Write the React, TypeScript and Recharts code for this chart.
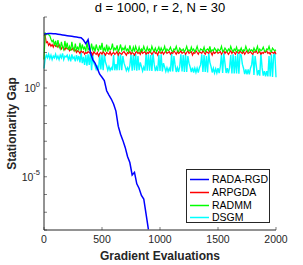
import React from "react";
import { Label, Legend, Line, LineChart, XAxis, YAxis } from "recharts";

// gradient evaluations, fine grid for ARPGDA / RADMM / DSGM
const evalsFine = [
  0, 10, 20, 30, 40, 50, 60, 70, 80, 90, 100, 110, 120, 130, 140, 150, 160, 170, 180, 190,
  200, 210, 220, 230, 240, 250, 260, 270, 280, 290, 300, 310, 320, 330, 340, 350, 360, 370, 380, 390,
  400, 410, 420, 430, 440, 450, 460, 470, 480, 490, 500, 510, 520, 530, 540, 550, 560, 570, 580, 590,
  600, 610, 620, 630, 640, 650, 660, 670, 680, 690, 700, 710, 720, 730, 740, 750, 760, 770, 780, 790,
  800, 810, 820, 830, 840, 850, 860, 870, 880, 890, 900, 910, 920, 930, 940, 950, 960, 970, 980, 990,
  1000, 1010, 1020, 1030, 1040, 1050, 1060, 1070, 1080, 1090, 1100, 1110, 1120, 1130, 1140, 1150, 1160, 1170, 1180, 1190,
  1200, 1210, 1220, 1230, 1240, 1250, 1260, 1270, 1280, 1290, 1300, 1310, 1320, 1330, 1340, 1350, 1360, 1370, 1380, 1390,
  1400, 1410, 1420, 1430, 1440, 1450, 1460, 1470, 1480, 1490, 1500, 1510, 1520, 1530, 1540, 1550, 1560, 1570, 1580, 1590,
  1600, 1610, 1620, 1630, 1640, 1650, 1660, 1670, 1680, 1690, 1700, 1710, 1720, 1730, 1740, 1750, 1760, 1770, 1780, 1790,
  1800, 1810, 1820, 1830, 1840, 1850, 1860, 1870, 1880, 1890, 1900, 1910, 1920, 1930, 1940, 1950, 1960, 1970, 1980, 1990,
  2000
];

// coarser grid for RADA-RGD (it leaves the plot near 900)
const evalsRgd = [
  0, 20, 40, 60, 80, 100, 120, 140, 160, 180, 200, 220, 240, 260, 280, 300, 320, 340, 360, 380,
  400, 420, 440, 460, 480, 500, 520, 540, 560, 580, 600, 620, 640, 660, 680, 700, 720, 740, 760, 780,
  800, 820, 840, 860, 880, 900
];

const radaRgd = [
  1072, 1148, 1175, 1175, 1148, 1122, 1072, 1023, 977, 933, 891, 851, 813, 776, 741, 708, 676, 501, 316, 525,
  100, 40, 25, 12.6, 6, 4, 2.6, 0.7, 0.398, 0.24, 0.126, 0.05, 0.0071, 0.0025, 0.00112, 4.5e-4, 1.4e-4, 6.3e-5, 1.26e-5, 1.78e-5,
  4e-6, 2.2e-6, 8.9e-7, 5.6e-7, 7.9e-8, 1.1e-8
];

const arpgda = [
  1000, 891, 355, 398, 251, 316, 224, 282, 200, 316, 224, 251, 200, 282, 200, 158, 224, 178, 141, 200,
  158, 178, 126, 158, 141, 178, 126, 141, 100, 126, 112, 89, 126, 100, 112, 79, 100, 89, 112, 100,
  89, 100, 71, 112, 89, 79, 100, 63, 89, 100, 79, 112, 89, 71, 100, 89, 79, 112, 71, 89,
  100, 79, 89, 112, 71, 100, 89, 79, 100, 112, 89, 71, 100, 89, 112, 79, 100, 89, 71, 100,
  112, 89, 100, 79, 126, 89, 100, 112, 79, 100, 89, 112, 100, 79, 100, 126, 89, 100, 71, 112,
  100, 89, 112, 79, 100, 126, 89, 100, 112, 79, 100, 89, 126, 100, 79, 112, 89, 100, 126, 89,
  100, 112, 79, 100, 126, 89, 100, 112, 71, 100, 89, 126, 100, 79, 112, 100, 89, 126, 100, 79,
  112, 100, 89, 126, 100, 71, 112, 89, 100, 126, 89, 100, 112, 79, 100, 126, 89, 112, 100, 79,
  100, 126, 89, 112, 100, 79, 112, 100, 89, 126, 100, 89, 112, 79, 100, 126, 89, 100, 112, 89,
  79, 112, 100, 126, 89, 100, 112, 79, 100, 89, 112, 100, 126, 89, 100, 79, 112, 100, 89, 112,
  79
];

const radmm = [
  40, 1259, 1122, 1122, 1000, 891, 562, 398, 501, 251, 447, 200, 501, 224, 158, 398, 200, 141, 447, 178,
  355, 141, 224, 126, 398, 178, 126, 316, 141, 200, 141, 355, 126, 282, 158, 200, 112, 398, 141, 178,
  126, 316, 141, 200, 112, 282, 158, 126, 251, 141, 355, 126, 178, 112, 282, 112, 200, 141, 158, 316,
  126, 178, 141, 251, 112, 158, 282, 126, 178, 141, 224, 126, 158, 112, 251, 141, 112, 200, 112, 224,
  141, 112, 200, 112, 158, 126, 224, 141, 112, 200, 126, 158, 112, 224, 141, 126, 178, 112, 141, 200,
  112, 178, 126, 141, 224, 112, 158, 126, 141, 200, 126, 112, 158, 141, 224, 126, 112, 178, 141, 126,
  158, 112, 141, 224, 126, 141, 112, 200, 126, 158, 112, 141, 224, 126, 112, 158, 141, 126, 200, 112,
  141, 158, 126, 224, 112, 141, 126, 178, 141, 112, 158, 126, 141, 224, 112, 126, 178, 141, 112, 158,
  126, 224, 141, 112, 158, 126, 200, 112, 141, 126, 178, 112, 141, 126, 224, 141, 112, 158, 126, 141,
  112, 178, 126, 141, 224, 112, 158, 126, 141, 200, 126, 112, 158, 141, 224, 126, 112, 178, 141, 126,
  141
];

const dsgm = [
  12.6, 45, 71, 50, 79, 45, 71, 40, 63, 50, 79, 45, 63, 40, 71, 50, 89, 40, 63, 56,
  71, 40, 63, 32, 79, 45, 56, 32, 71, 40, 63, 28, 100, 25, 56, 20, 71, 18, 79, 20,
  89, 10, 71, 25, 18, 11, 16, 10, 79, 11, 71, 10, 79, 28, 18, 10, 16, 10, 14, 10,
  71, 10, 22, 10, 89, 10, 79, 10, 63, 25, 16, 9.5, 14, 9.5, 18, 79, 9.5, 71, 10, 89,
  9.5, 63, 10, 28, 16, 9, 15, 9.5, 89, 9.5, 79, 9.5, 71, 9, 89, 22, 9, 15, 9, 71,
  9, 79, 8.5, 25, 15, 8.5, 14, 8.5, 13, 8.5, 89, 8.5, 63, 20, 8, 14, 8, 16, 79, 8.5,
  71, 8, 89, 8, 63, 25, 15, 8, 14, 7.5, 13, 7.5, 13, 7.5, 14, 20, 79, 8, 71, 8,
  63, 7.5, 89, 28, 16, 7.5, 13, 7, 12, 7, 13, 7, 16, 79, 7, 89, 25, 7, 13, 6.8,
  14, 71, 6.5, 79, 6.5, 63, 6.5, 89, 6.3, 79, 71, 22, 13, 6, 11, 5.8, 11, 5.8, 13, 20,
  79, 5.5, 63, 18, 5.2, 10, 5, 89, 14, 5, 9, 4.6, 9, 4.5, 63, 4.5, 79, 4.2, 71, 89,
  4
];

const seriesNames = ["RADA-RGD", "ARPGDA", "RADMM", "DSGM"];
const seriesColors = ["#0000ff", "#ff0000", "#00ff00", "#00ffff"];

const xTicks = [0, 500, 1000, 1500, 2000];
const yTicks = [1e-8, 1e-7, 1e-6, 1e-5, 1e-4, 1e-3, 1e-2, 1e-1, 1, 10, 100, 1e3, 1e4];
const labelledExps = [0, -5];

const toPoints = (xs: number[], ys: number[]) => ys.map((y, i) => ({ x: xs[i], y }));
const rgdData = toPoints(evalsRgd, radaRgd);
const arpgdaData = toPoints(evalsFine, arpgda);
const radmmData = toPoints(evalsFine, radmm);
const dsgmData = toPoints(evalsFine, dsgm);

const INK = "#262626";
const FONT = "'Liberation Sans', Arial, Helvetica, sans-serif";

function LeftTick({ x, y, payload }: any) {
  const e = Math.round(Math.log10(payload.value));
  return (
    <g>
      <line x1={x} x2={x + 3} y1={y} y2={y} stroke={INK} strokeWidth={0.6} />
      {labelledExps.includes(e) && (
        <text x={x - 4} y={y + 4} textAnchor="end" fontSize={10.5} fill={INK} fontFamily={FONT}>
          10
          <tspan dy={-5.5} fontSize={7.5}>{e}</tspan>
        </text>
      )}
    </g>
  );
}

function RightTick({ x, y }: any) {
  return <line x1={x} x2={x - 3} y1={y} y2={y} stroke={INK} strokeWidth={0.6} />;
}

function BottomTick({ x, y, payload }: any) {
  return (
    <g>
      <line x1={x} x2={x} y1={y} y2={y - 3} stroke={INK} strokeWidth={0.6} />
      <text x={x} y={y + 13} textAnchor="middle" fontSize={10.5} fill={INK} fontFamily={FONT}>
        {payload.value}
      </text>
    </g>
  );
}

function TopTick({ x, y }: any) {
  return <line x1={x} x2={x} y1={y} y2={y + 3} stroke={INK} strokeWidth={0.6} />;
}

function LegendBox() {
  return (
    <div
      style={{
        width: 84,
        height: 54,
        boxSizing: "border-box",
        border: `1px solid ${INK}`,
        background: "#fff",
        position: "relative",
        fontFamily: FONT,
        fontSize: 10.5,
        color: "#000"
      }}
    >
      {seriesNames.map((name, i) => (
        <div
          key={name}
          style={{ position: "absolute", left: 2, top: 3 + i * 12.8, height: 13, display: "flex", alignItems: "center" }}
        >
          <svg width={21} height={13}>
            <line x1={1} x2={20} y1={6.5} y2={6.5} stroke={seriesColors[i]} strokeWidth={1.5} />
          </svg>
          <span style={{ marginLeft: 2, lineHeight: "13px" }}>{name}</span>
        </div>
      ))}
    </div>
  );
}

export default function App() {
  return (
    <div style={{ position: "absolute", left: 0, top: 0, width: 303, height: 265, background: "#fff", fontFamily: FONT }}>
      <div
        style={{
          position: "absolute",
          left: 44,
          width: 232,
          top: 0,
          textAlign: "center",
          fontSize: 13,
          lineHeight: "15px",
          color: "#000"
        }}
      >
        d = 1000, r = 2, N = 30
      </div>
      <LineChart width={303} height={265} margin={{ top: 17, right: 27, bottom: 0, left: 0 }}>
        <XAxis
          dataKey="x"
          type="number"
          domain={[0, 2000]}
          ticks={xTicks}
          height={35}
          tickSize={0}
          tickMargin={0}
          tickLine={false}
          stroke={INK}
          tick={<BottomTick />}
          interval={0}
        >
          <Label
            value="Gradient Evaluations"
            position="insideBottom"
            offset={5}
            style={{ fontSize: 12, fontWeight: "bold", fill: INK, fontFamily: FONT }}
          />
        </XAxis>
        <XAxis
          xAxisId="top"
          orientation="top"
          dataKey="x"
          type="number"
          domain={[0, 2000]}
          ticks={xTicks}
          height={0}
          tickSize={0}
          tickMargin={0}
          tickLine={false}
          stroke={INK}
          tick={<TopTick />}
          interval={0}
        />
        <YAxis
          scale="log"
          type="number"
          domain={[1e-8, 1e4]}
          ticks={yTicks}
          allowDataOverflow
          width={44}
          tickSize={0}
          tickMargin={0}
          tickLine={false}
          stroke={INK}
          tick={<LeftTick />}
          interval={0}
        >
          <Label
            content={({ viewBox }: any) => {
              const cy = viewBox.y + viewBox.height / 2;
              return (
                <text
                  x={16}
                  y={cy}
                  transform={`rotate(-90, 16, ${cy})`}
                  textAnchor="middle"
                  fontSize={12}
                  fontWeight="bold"
                  fill={INK}
                  fontFamily={FONT}
                >
                  Stationarity Gap
                </text>
              );
            }}
          />
        </YAxis>
        <YAxis
          yAxisId="right"
          orientation="right"
          scale="log"
          type="number"
          domain={[1e-8, 1e4]}
          ticks={yTicks}
          allowDataOverflow
          width={0}
          tickSize={0}
          tickMargin={0}
          tickLine={false}
          stroke={INK}
          tick={<RightTick />}
          interval={0}
        />
        <Line data={dsgmData} dataKey="y" name="DSGM" stroke={seriesColors[3]} strokeWidth={1.4} dot={false} isAnimationActive={false} />
        <Line data={arpgdaData} dataKey="y" name="ARPGDA" stroke={seriesColors[1]} strokeWidth={1.2} dot={false} isAnimationActive={false} />
        <Line data={radmmData} dataKey="y" name="RADMM" stroke={seriesColors[2]} strokeWidth={1.2} dot={false} isAnimationActive={false} />
        <Line data={rgdData} dataKey="y" name="RADA-RGD" stroke={seriesColors[0]} strokeWidth={1.5} dot={false} isAnimationActive={false} />
        <Legend
          layout="horizontal"
          verticalAlign="middle"
          align="center"
          content={() => <LegendBox />}
          wrapperStyle={{ position: "absolute", left: 186, top: 169, width: 84, height: 54 }}
        />
      </LineChart>
    </div>
  );
}
